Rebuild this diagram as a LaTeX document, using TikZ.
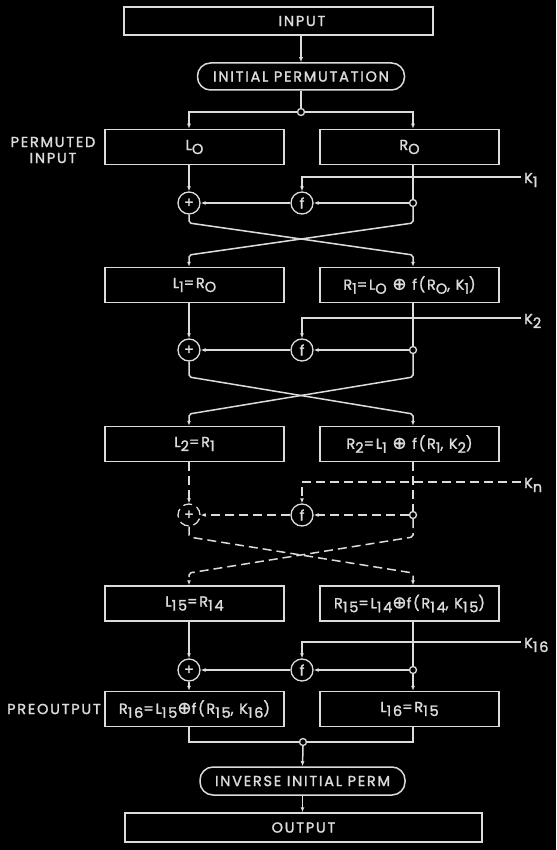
\documentclass[tikz,border=0pt]{standalone}
\usepackage{fontspec}
\setmainfont{Poppins}[LetterSpace=12, FakeBold=1.6]
\newfontfamily\dssym{DejaVu Sans}[FakeBold=1.2]
\usetikzlibrary{arrows.meta}
\definecolor{ink}{HTML}{DCDCDC}
\newcommand\dslbl{\fontsize{14.5}{16}\selectfont}
\newcommand\dsub[1]{\raisebox{-4pt}{#1}}
\newcommand\dsxor{{\dssym\fontsize{17}{16}\selectfont ⊕}}
\tikzset{
 ln/.style={draw=ink, line width=1.5pt},
 arr/.style={ln, -{Latex[length=5pt,width=4pt]}},
 box/.style={draw=ink, line width=1.5pt, minimum width=179pt, minimum height=35pt, inner sep=0pt, text=ink, font=\dslbl},
 op/.style={circle, draw=ink, line width=1.3pt, minimum size=22pt, inner sep=0pt, text=ink, font=\dslbl, fill=black},
 jdot/.style={circle, draw=ink, line width=1.3pt, minimum size=7pt, inner sep=0pt, fill=black},
 pill/.style={draw=ink, line width=1.5pt, rounded corners=13pt, minimum width=207pt, minimum height=27pt, inner sep=0pt, text=ink, font=\dslbl},
 txt/.style={text=ink, font=\dslbl, inner sep=0pt},
 dsh/.style={dash pattern=on 9pt off 5pt},
}
\begin{document}
\begin{tikzpicture}[x=1pt,y=-1pt]
\path[fill=black, use as bounding box] (0,0) rectangle (556,850);

% top
\node[box, minimum width=309pt, minimum height=28pt] (IN) at (278.5,21) {};
\node[txt] (INt) at (302,21) {INPUT};
\node[pill] (IP) at (301,76.5) {INITIAL PERMUTATION};
\node[jdot] (JT) at (301,112) {};
\node[txt, align=center] (PI) at (53,150) {PERMUTED\\INPUT};

% row 0
\node[box] (L0) at (194.5,147) {L\dsub{O}};
\node[box] (R0) at (409.5,147) {R\dsub{O}};
\node[op] (X0) at (189,203) {+};
\node[op] (F0) at (302,203) {f};
\node[jdot] (J0) at (413,203) {};
\coordinate (K0) at (521,177);
\node[txt, anchor=west] (K0t) at (524,180) {K\dsub{1}};

% row 1
\node[box] (L1) at (194.5,285) {L\dsub{1}=R\dsub{O}};
\node[box] (R1) at (409.5,285) {R\dsub{1}=L\dsub{O} \dsxor{} f(R\dsub{O}, K\dsub{1})};
\node[op] (X1) at (189,350) {+};
\node[op] (F1) at (302,350) {f};
\node[jdot] (J1) at (413,350) {};
\coordinate (K1) at (521,318);
\node[txt, anchor=west] (K1t) at (524,321) {K\dsub{2}};

% row 2 (dashed)
\node[box] (L2) at (194.5,444) {L\dsub{2}=R\dsub{1}};
\node[box] (R2) at (409.5,444) {R\dsub{2}=L\dsub{1} \dsxor{} f(R\dsub{1}, K\dsub{2})};
\node[op, dsh] (X2) at (189,515) {+};
\node[op] (F2) at (302,515) {f};
\node[jdot] (J2) at (413,515) {};
\coordinate (K2) at (521,482);
\node[txt, anchor=west] (K2t) at (524,485) {K\dsub{n}};

% row 15
\node[box] (L15) at (194.5,603.5) {L\dsub{15}=R\dsub{14}};
\node[box] (R15) at (409.5,603.5) {R\dsub{15}=L\dsub{14}\dsxor{}f(R\dsub{14}, K\dsub{15})};
\node[op] (X15) at (189,670) {+};
\node[op] (F15) at (302,670) {f};
\node[jdot] (J15) at (413,670) {};
\coordinate (K15) at (521,642);
\node[txt, anchor=west] (K15t) at (524,645) {K\dsub{16}};

% final
\node[box] (R16) at (194.5,709) {R\dsub{16}=L\dsub{15}\dsxor{}f(R\dsub{15}, K\dsub{16})};
\node[box] (L16) at (409.5,709) {L\dsub{16}=R\dsub{15}};
\node[txt, anchor=east] (PO) at (101,709) {PREOUTPUT};
\node[jdot] (JF) at (303,742) {};
\node[pill, minimum width=205pt, minimum height=28pt] (IIP) at (302.5,781) {INVERSE INITIAL PERM};
\node[box, minimum width=357pt, minimum height=29pt] (OUT) at (303.5,827.5) {OUTPUT};

% top connectors
\draw[arr] (IN.south -| IP) -- (IP.north);
\draw[ln] (IP.south) -- (JT.north);
\draw[arr] (JT.west) -| (L0.north -| X0);
\draw[arr] (JT.east) -| (R0.north -| J0);

% row 0 connectors
\draw[arr] (L0.south -| X0) -- (X0.north);
\draw[ln] (R0.south -| J0) -- (J0.north);
\draw[arr] (K0) -| (F0.north);
\draw[arr] (J0.west) -- (F0.east);
\draw[arr] (F0.west) -- (X0.east);
\draw[arr, rounded corners=2pt] (X0.south) -- (189,223) -- (413,255) -- (R1.north -| J0);
\draw[arr, rounded corners=2pt] (J0.south) -- (413,223) -- (189,255) -- (L1.north -| X0);

% row 1 connectors
\draw[arr] (L1.south -| X1) -- (X1.north);
\draw[ln] (R1.south -| J1) -- (J1.north);
\draw[arr] (K1) -| (F1.north);
\draw[arr] (J1.west) -- (F1.east);
\draw[arr] (F1.west) -- (X1.east);
\draw[arr, rounded corners=2pt] (X1.south) -- (189,377) -- (413,414) -- (R2.north -| J1);
\draw[arr, rounded corners=2pt] (J1.south) -- (413,377) -- (189,414) -- (L2.north -| X1);

% row 2 connectors (dashed)
\draw[arr, dsh] (L2.south -| X2) -- (X2.north);
\draw[ln, dsh] (R2.south -| J2) -- (J2.north);
\draw[arr, dsh] (K2) -| (F2.north);
\draw[arr, dsh] (J2.west) -- (F2.east);
\draw[arr, dsh] (F2.west) -- (X2.east);
\draw[arr, dsh, rounded corners=2pt] (X2.south) -- (189,537) -- (413,573) -- (R15.north -| J2);
\draw[arr, dsh, rounded corners=2pt] (J2.south) -- (413,537) -- (189,573) -- (L15.north -| X2);

% row 15 connectors
\draw[arr] (L15.south -| X15) -- (X15.north);
\draw[ln] (R15.south -| J15) -- (J15.north);
\draw[arr] (K15) -| (F15.north);
\draw[arr] (J15.west) -- (F15.east);
\draw[arr] (F15.west) -- (X15.east);
\draw[arr] (X15.south) -- (R16.north -| X15);
\draw[arr] (J15.south) -- (L16.north -| J15);

% final connectors
\draw[ln] (R16.south -| X15) |- (JF.west);
\draw[ln] (L16.south -| J15) |- (JF.east);
\draw[arr] (JF.south) -- (IIP.north);
\draw[arr] (IIP.south) -- (OUT.north -| IIP);
\end{tikzpicture}
\end{document}
